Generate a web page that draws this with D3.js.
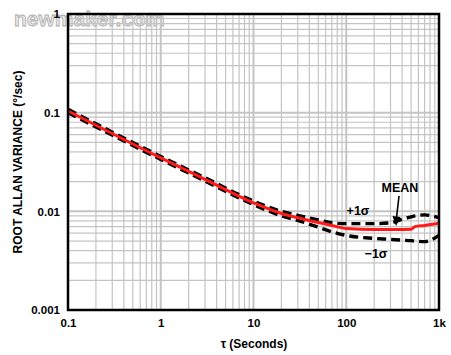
<!DOCTYPE html>
<html><head><meta charset="utf-8">
<script src="https://cdn.jsdelivr.net/npm/d3@7"></script>
<style>
html,body{margin:0;padding:0;background:#fff;}
svg{display:block;}
text{font-family:"Liberation Sans",Arial,sans-serif;font-weight:bold;}
</style></head><body>
<svg id="c" width="451" height="355"></svg>
<script>
// ---- data ----
const tau      = [0.1,   1,      3,      10,     20,     30,     50,     70,     100,    200,    300,    400,    500,    550,    700,    1000];
const meanVals = [0.104, 0.0348, 0.0211, 0.0122, 0.0095, 0.0086, 0.0077, 0.0072, 0.0067, 0.00653,0.00655,0.00656,0.00658,0.0070, 0.0072, 0.00757];
const upperVals= [0.108, 0.0360, 0.0219, 0.0127, 0.0100, 0.0091, 0.0082, 0.00765,0.0075, 0.0075, 0.00765,0.0083, 0.0088, 0.0090, 0.0092, 0.0086];
const lowerVals= [0.100, 0.0336, 0.0203, 0.0117, 0.0090, 0.0081, 0.0069, 0.0062, 0.0057, 0.00532,0.0052, 0.0051, 0.00505,0.0050, 0.00493,0.0057];
const xTickValues = [0.1, 1, 10, 100, 1000];
const xTickLabels = ["0.1", "1", "10", "100", "1k"];
const yTickValues = [0.001, 0.01, 0.1, 1];
const yTickLabels = ["0.001", "0.01", "0.1", "1"];
const xTitle = "τ (Seconds)";
const yTitle = "ROOT ALLAN VARIANCE (°/sec)";

// ---- layout ----
const W = 451, H = 355;
const m = {left: 68, right: 12, top: 14, bottom: 45};
const svg = d3.select("#c");
const x = d3.scaleLog().domain([0.1, 1000]).range([m.left, W - m.right]);
const y = d3.scaleLog().domain([0.001, 1]).range([H - m.bottom, m.top]);

const isDecade = v => Math.abs(Math.log10(v) - Math.round(Math.log10(v))) < 1e-9;

// watermark (behind frame text)
svg.append("text").attr("x", 14).attr("y", 26).attr("font-size", 21)
  .attr("font-weight", "bold").attr("fill", "#e8e8e8").attr("stroke", "#aaaaaa")
  .attr("stroke-width", 0.8).text("newmaker.com");

// grid
const g = svg.append("g");
x.ticks().forEach(v => {
  g.append("line").attr("x1", x(v)).attr("x2", x(v))
   .attr("y1", m.top).attr("y2", H - m.bottom)
   .attr("stroke", "#c4c4c4").attr("stroke-width", isDecade(v) ? 2 : 1.2);
});
y.ticks().forEach(v => {
  g.append("line").attr("y1", y(v)).attr("y2", y(v))
   .attr("x1", m.left).attr("x2", W - m.right)
   .attr("stroke", "#c4c4c4").attr("stroke-width", isDecade(v) ? 2 : 1.2);
});

// curves
const line = vals => d3.line().x((d, i) => x(tau[i])).y(d => y(d)).curve(d3.curveMonotoneX)(vals);
[upperVals, lowerVals].forEach(vals => {
  svg.append("path").attr("d", line(vals)).attr("fill", "none")
    .attr("stroke", "#000").attr("stroke-width", 3.4).attr("stroke-dasharray", "9,5");
});
svg.append("path").attr("d", line(meanVals)).attr("fill", "none")
  .attr("stroke", "#ff1a1a").attr("stroke-width", 3);

// frame
svg.append("rect").attr("x", m.left).attr("y", m.top)
  .attr("width", W - m.left - m.right).attr("height", H - m.top - m.bottom)
  .attr("fill", "none").attr("stroke", "#000").attr("stroke-width", 2.5);

// axes labels via d3 axes (no lines)
const xAxis = d3.axisBottom(x).tickValues(xTickValues)
  .tickFormat((d, i) => xTickLabels[i]).tickSize(0).tickPadding(9);
const xa = svg.append("g").attr("transform", `translate(0,${H - m.bottom})`).call(xAxis);
xa.select(".domain").remove();
xa.selectAll("text").attr("font-size", 11.5).attr("font-weight", "bold").attr("fill", "#000")
  .attr("font-family", '"Liberation Sans",Arial,sans-serif');

const yAxis = d3.axisLeft(y).tickValues(yTickValues)
  .tickFormat((d, i) => yTickLabels[i]).tickSize(0).tickPadding(8);
const ya = svg.append("g").attr("transform", `translate(${m.left},0)`).call(yAxis);
ya.select(".domain").remove();
ya.selectAll("text").attr("font-size", 11.5).attr("font-weight", "bold").attr("fill", "#000")
  .attr("font-family", '"Liberation Sans",Arial,sans-serif');

svg.append("text").attr("x", 254).attr("y", 348).attr("text-anchor", "middle")
  .attr("font-size", 12).text(xTitle);
svg.append("text").attr("transform", "translate(22,162) rotate(-90)")
  .attr("text-anchor", "middle").attr("font-size", 12).text(yTitle);

// annotations
svg.append("text").attr("x", 400).attr("y", 192).attr("text-anchor", "middle")
  .attr("font-size", 12.5).text("MEAN");
svg.append("text").attr("x", 358).attr("y", 215).attr("text-anchor", "middle")
  .attr("font-size", 12.5).text("+1σ");
svg.append("text").attr("x", 376).attr("y", 258).attr("text-anchor", "middle")
  .attr("font-size", 12.5).text("\u22121σ");
svg.append("line").attr("x1", 399).attr("y1", 196).attr("x2", 396.5).attr("y2", 218)
  .attr("stroke", "#000").attr("stroke-width", 1.6);
svg.append("path").attr("d", "M392.5,216 L400.5,217 L396,226 Z").attr("fill", "#000");
</script>
</body></html>
